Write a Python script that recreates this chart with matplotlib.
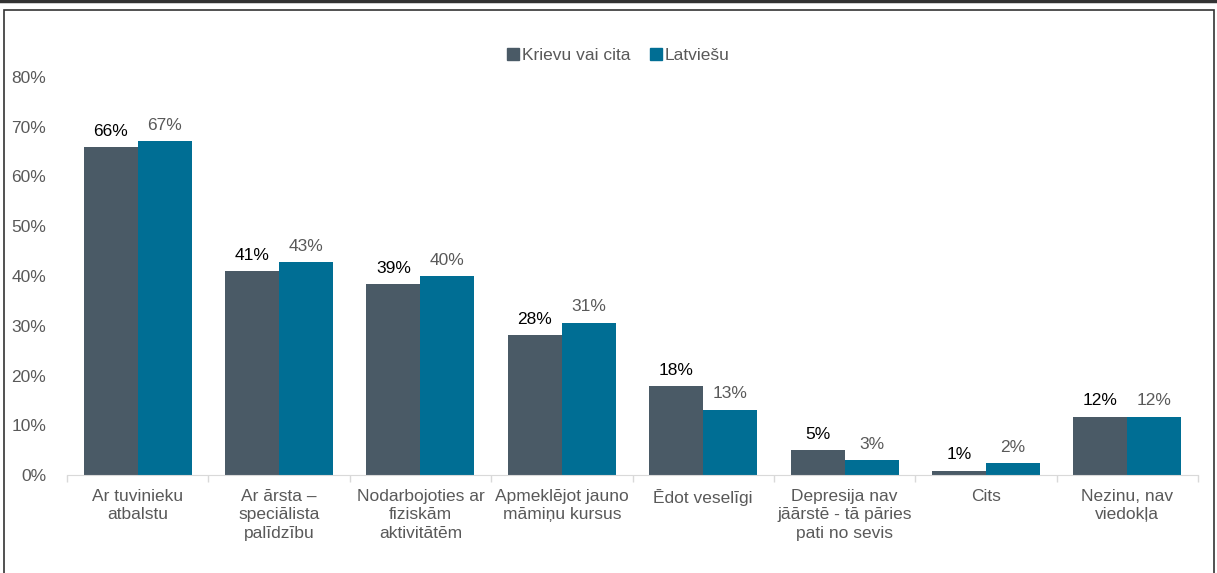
import numpy as np
import matplotlib.pyplot as plt
from matplotlib.lines import Line2D
from matplotlib.patches import Rectangle

plt.rcParams['font.family'] = ['Liberation Sans', 'DejaVu Sans']

categories = ['Ar tuvinieku\natbalstu', 'Ar ārsta –\nspeciālista\npalīdzību',
              'Nodarbojoties ar\nfiziskām\naktivitātēm', 'Apmeklējot jauno\nmāmiņu kursus',
              'Ēdot veselīgi', 'Depresija nav\njāārstē - tā pāries\npati no sevis',
              'Cits', 'Nezinu, nav\nviedokļa']
series_names = ['Krievu vai cita', 'Latviešu']
krievu = [65.9, 41.0, 38.4, 28.1, 17.9, 5.0, 0.9, 11.7]
latviesu = [67.1, 42.8, 40.0, 30.6, 13.1, 3.0, 2.4, 11.7]
krievu_labels = ['66%', '41%', '39%', '28%', '18%', '5%', '1%', '12%']
latviesu_labels = ['67%', '43%', '40%', '31%', '13%', '3%', '2%', '12%']

dark = '#4a5a66'
blue = '#006e94'
grey_txt = '#595959'
fs = 12.5

fig = plt.figure(figsize=(12.17, 5.73), dpi=100)
ax = fig.add_axes([67 / 1217, 98 / 573, 1131 / 1217, 398 / 573])

x = np.arange(len(categories))
w = 0.382
b1 = ax.bar(x - w / 2, krievu, w, color=dark, label=series_names[0])
b2 = ax.bar(x + w / 2, latviesu, w, color=blue, label=series_names[1])

for rect, lab in zip(b1, krievu_labels):
    ax.annotate(lab, (rect.get_x() + rect.get_width() / 2, rect.get_height()),
                xytext=(0, 6), textcoords='offset points', ha='center', va='bottom',
                fontsize=fs, color='black')
for rect, lab in zip(b2, latviesu_labels):
    ax.annotate(lab, (rect.get_x() + rect.get_width() / 2, rect.get_height()),
                xytext=(0, 6), textcoords='offset points', ha='center', va='bottom',
                fontsize=fs, color=grey_txt)

ax.set_xlim(-0.5, len(categories) - 0.5)
ax.set_ylim(0, 80)
ax.set_yticks(range(0, 81, 10))
ax.set_yticklabels([f'{v}%' for v in range(0, 81, 10)], fontsize=fs, color=grey_txt)
ax.tick_params(axis='y', length=0, pad=15)

ax.set_xticks(x)
ax.set_xticklabels(categories, fontsize=fs, color=grey_txt, linespacing=1.3)
ax.tick_params(axis='x', length=0, pad=10)
ax.set_xticks(np.arange(-0.5, len(categories), 1), minor=True)
ax.tick_params(axis='x', which='minor', length=5, color='#d9d9d9', width=1)

for s in ['top', 'right', 'left']:
    ax.spines[s].set_visible(False)
ax.spines['bottom'].set_color('#d9d9d9')

handles = [Line2D([], [], marker='s', linestyle='none', color=dark, markersize=8),
           Line2D([], [], marker='s', linestyle='none', color=blue, markersize=8)]
fig.legend(handles, series_names, loc='center', bbox_to_anchor=(617 / 1217, 1 - 55 / 573),
           ncol=2, frameon=False, fontsize=fs, handletextpad=0.0, columnspacing=1.0,
           labelcolor=grey_txt, handlelength=1.0)

# outer frame
fig.add_artist(Line2D([0, 1], [1 - 1 / 573, 1 - 1 / 573], transform=fig.transFigure,
                      color='#333333', linewidth=2.5))
fig.add_artist(Rectangle((4 / 1217, -0.05), 1210 / 1217, 1 - 10 / 573 + 0.05,
                         transform=fig.transFigure, fill=False, edgecolor='#333333',
                         linewidth=1.2))

fig.savefig('out.png', dpi=100)
